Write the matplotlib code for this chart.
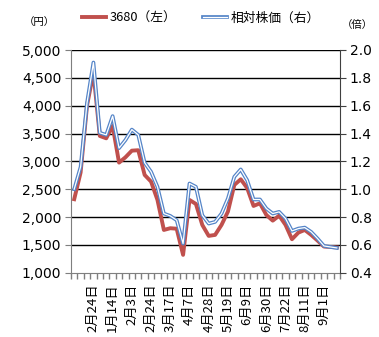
import matplotlib
matplotlib.use("Agg")
import matplotlib.pyplot as plt
from matplotlib.lines import Line2D
from matplotlib.ticker import FuncFormatter, FixedLocator
import numpy as np

plt.rcParams['font.family'] = ['DejaVu Sans', 'Noto Sans CJK JP']

# ---- data ----
price_3680 = [2320, 2800, 4000, 4600, 3456, 3414, 3636, 2977, 3073, 3192,
              3200, 2756, 2636, 2307, 1768, 1799, 1790, 1320, 2307, 2235,
              1858, 1661, 1679, 1858, 2097, 2576, 2678, 2522, 2199, 2247,
              2037, 1935, 2025, 1858, 1601, 1720, 1768, 1679, 1576, 1469,
              1462, 1455]
relative_price = [1.00, 1.16, 1.62, 1.91, 1.405, 1.39, 1.525, 1.295, 1.353, 1.428,
                  1.39, 1.19, 1.125, 1.017, 0.825, 0.808, 0.777, 0.609, 1.041, 1.017,
                  0.813, 0.753, 0.765, 0.825, 0.933, 1.089, 1.142, 1.065, 0.926, 0.926,
                  0.861, 0.825, 0.837, 0.789, 0.700, 0.717, 0.724, 0.693, 0.645, 0.592,
                  0.585, 0.578]
date_labels = ["2月24日", "1月14日", "2月3日", "2月24日", "3月17日", "4月7日",
               "4月28日", "5月19日", "6月9日", "6月30日", "7月22日", "8月11日",
               "9月1日"]
label_every = 3

legend_red = "3680（左）"
legend_blue = "相対株価（右）"
unit_left = "（円）"
unit_right = "（倍）"

# ---- figure ----
W, H = 379, 337
fig = plt.figure(figsize=(W / 100, H / 100), dpi=100)
ax = fig.add_axes([71 / W, 1 - 272.7 / H, (340 - 71) / W, (272.7 - 50) / H])
ax2 = ax.twinx()

n = len(price_3680)
x = np.arange(n)

red = '#C0504D'
blue = '#5585C8'

ax.set_xlim(-0.5, n - 0.5)
ax.set_ylim(1000, 5000)
ax2.set_ylim(0.4, 2.0)

ax.set_yticks(np.arange(1000, 5001, 500))
ax.yaxis.set_major_formatter(FuncFormatter(lambda v, p: f"{int(v):,}"))
ax2.set_yticks(np.round(np.arange(0.4, 2.01, 0.2), 1))
ax2.yaxis.set_major_formatter(FuncFormatter(lambda v, p: f"{v:.1f}"))

for yv in np.arange(1500, 5001, 500):
    ax.axhline(yv, color='black', lw=1.0, zorder=1)

# lines
ax.plot(x, price_3680, color=red, lw=2.8, zorder=3)
ax2.plot(x, relative_price, color=blue, lw=2.7, zorder=3)
ax2.plot(x, relative_price, color='white', lw=0.9, zorder=4)
ax.set_zorder(0)
ax2.set_zorder(1)
ax2.patch.set_visible(False)

# x ticks
tick_pos = [label_every * (k + 1) for k in range(len(date_labels))]
ax.set_xticks(tick_pos)
ax.set_xticklabels(date_labels, rotation=90, fontsize=9.5,
                   family=['Noto Sans CJK JP', 'DejaVu Sans'])
ax.tick_params(axis='x', length=0, pad=8)
ax.xaxis.set_minor_locator(FixedLocator(np.arange(-0.5, n, 1.0)))
ax.tick_params(axis='x', which='minor', length=4, direction='out', color='#7f7f7f', width=1)

ax.tick_params(axis='y', length=4, direction='out', color='#7f7f7f', labelsize=10, pad=3)
ax2.tick_params(axis='y', length=4, direction='out', color='#404040', labelsize=10, pad=3)

ax.spines['top'].set_visible(False)
ax2.spines['top'].set_visible(False)
ax.spines['left'].set_color('#7f7f7f')
ax.spines['bottom'].set_color('#7f7f7f')
ax2.spines['left'].set_visible(False)
ax2.spines['bottom'].set_visible(False)
ax2.spines['right'].set_color('#404040')
ax.spines['right'].set_visible(False)

# units
fig.text(39 / W, 1 - 22 / H, unit_left, ha='center', va='center', fontsize=7.5,
         family=['Noto Sans CJK JP', 'DejaVu Sans'])
fig.text(357 / W, 1 - 25 / H, unit_right, ha='center', va='center', fontsize=7.5,
         family=['Noto Sans CJK JP', 'DejaVu Sans'])

# legend
h_red = Line2D([], [], color=red, lw=2.8)
h_blue = (Line2D([], [], color=blue, lw=2.7), Line2D([], [], color='white', lw=0.9))
fig.legend([h_red, h_blue], [legend_red, legend_blue], loc='center',
           bbox_to_anchor=(201 / W, 1 - 18 / H), ncol=2, frameon=False,
           handlelength=1.9, handletextpad=0.25, columnspacing=2.1,
           prop={'family': ['Noto Sans CJK JP', 'DejaVu Sans'], 'size': 9.2})

fig.savefig('out.png', dpi=100)
